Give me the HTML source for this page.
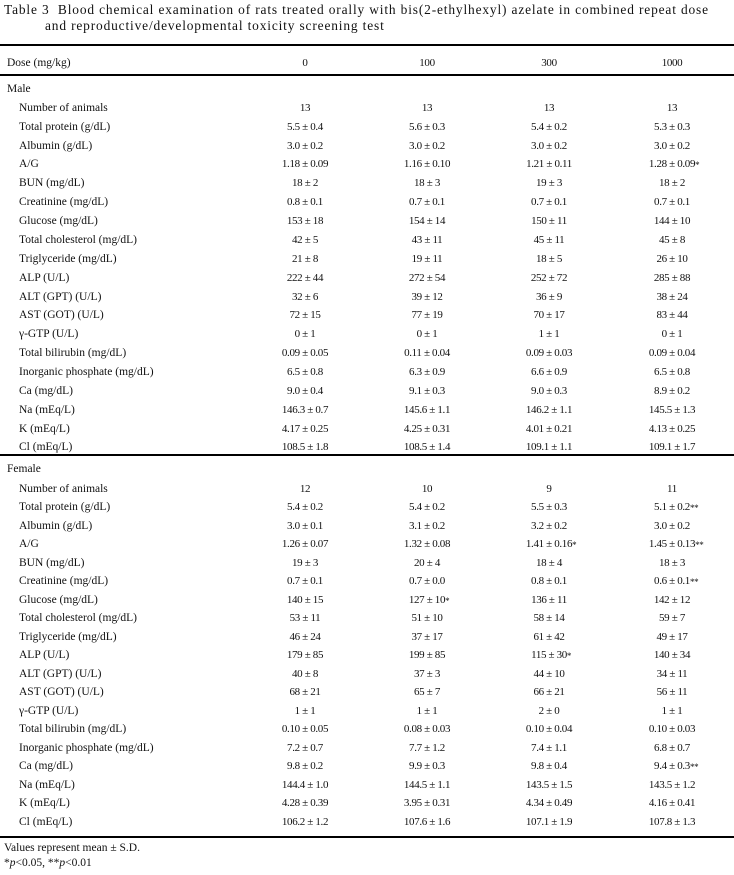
<!DOCTYPE html>
<html><head><meta charset="utf-8"><style>
body{margin:0;width:734px;height:875px;background:#fff;position:relative;font-family:"Liberation Serif",serif;color:#111;overflow:hidden}
.t{position:absolute;left:4px;font-size:13.4px;letter-spacing:0.85px;line-height:16px;white-space:nowrap}
.r{position:absolute;left:0;width:734px;height:18px;font-size:11px;line-height:18px;white-space:nowrap}
.r span{position:absolute;top:0}
.l{left:19px;font-size:11.5px}
.h{left:7px;font-size:11.5px}
.c{width:120px;text-align:center;letter-spacing:-0.35px}
.c1{left:245px}.c2{left:367px}.c3{left:489px}.c4{left:612px}
.s{position:relative;font-weight:normal}
.s i{position:absolute;left:100%;font-style:normal;font-size:9px;top:-2px}
.line{position:absolute;left:0;width:734px;background:#000}
.f{position:absolute;left:4px;font-size:11.5px;white-space:nowrap}
</style></head><body>
<div class="t" style="top:2px">Table 3&nbsp; Blood chemical examination of rats treated orally with bis(2-ethylhexyl) azelate in combined repeat dose</div>
<div class="t" style="top:18px;left:45px">and reproductive/developmental toxicity screening test</div>
<div class="line" style="top:44px;height:2px"></div>
<div class="r" style="top:54px"><span class="h">Dose (mg/kg)</span><span class="c c1">0</span><span class="c c2">100</span><span class="c c3">300</span><span class="c c4">1000</span></div>
<div class="line" style="top:74px;height:2px"></div>
<div class="r" style="top:80px"><span class="h">Male</span></div>

<div class="r" style="top:99px"><span class="l">Number of animals</span><span class="c c1">13</span><span class="c c2">13</span><span class="c c3">13</span><span class="c c4">13</span></div>
<div class="r" style="top:118px"><span class="l">Total protein (g/dL)</span><span class="c c1">5.5 ± 0.4</span><span class="c c2">5.6 ± 0.3</span><span class="c c3">5.4 ± 0.2</span><span class="c c4">5.3 ± 0.3</span></div>
<div class="r" style="top:137px"><span class="l">Albumin (g/dL)</span><span class="c c1">3.0 ± 0.2</span><span class="c c2">3.0 ± 0.2</span><span class="c c3">3.0 ± 0.2</span><span class="c c4">3.0 ± 0.2</span></div>
<div class="r" style="top:155px"><span class="l">A/G</span><span class="c c1">1.18 ± 0.09</span><span class="c c2">1.16 ± 0.10</span><span class="c c3">1.21 ± 0.11</span><span class="c c4"><b class="s">1.28 ± 0.09<i>*</i></b></span></div>
<div class="r" style="top:174px"><span class="l">BUN (mg/dL)</span><span class="c c1">18 ± 2</span><span class="c c2">18 ± 3</span><span class="c c3">19 ± 3</span><span class="c c4">18 ± 2</span></div>
<div class="r" style="top:193px"><span class="l">Creatinine (mg/dL)</span><span class="c c1">0.8 ± 0.1</span><span class="c c2">0.7 ± 0.1</span><span class="c c3">0.7 ± 0.1</span><span class="c c4">0.7 ± 0.1</span></div>
<div class="r" style="top:212px"><span class="l">Glucose (mg/dL)</span><span class="c c1">153 ± 18</span><span class="c c2">154 ± 14</span><span class="c c3">150 ± 11</span><span class="c c4">144 ± 10</span></div>
<div class="r" style="top:231px"><span class="l">Total cholesterol (mg/dL)</span><span class="c c1">42 ± 5</span><span class="c c2">43 ± 11</span><span class="c c3">45 ± 11</span><span class="c c4">45 ± 8</span></div>
<div class="r" style="top:250px"><span class="l">Triglyceride (mg/dL)</span><span class="c c1">21 ± 8</span><span class="c c2">19 ± 11</span><span class="c c3">18 ± 5</span><span class="c c4">26 ± 10</span></div>
<div class="r" style="top:269px"><span class="l">ALP (U/L)</span><span class="c c1">222 ± 44</span><span class="c c2">272 ± 54</span><span class="c c3">252 ± 72</span><span class="c c4">285 ± 88</span></div>
<div class="r" style="top:288px"><span class="l">ALT (GPT) (U/L)</span><span class="c c1">32 ± 6</span><span class="c c2">39 ± 12</span><span class="c c3">36 ± 9</span><span class="c c4">38 ± 24</span></div>
<div class="r" style="top:306px"><span class="l">AST (GOT) (U/L)</span><span class="c c1">72 ± 15</span><span class="c c2">77 ± 19</span><span class="c c3">70 ± 17</span><span class="c c4">83 ± 44</span></div>
<div class="r" style="top:325px"><span class="l">γ-GTP (U/L)</span><span class="c c1">0 ± 1</span><span class="c c2">0 ± 1</span><span class="c c3">1 ± 1</span><span class="c c4">0 ± 1</span></div>
<div class="r" style="top:344px"><span class="l">Total bilirubin (mg/dL)</span><span class="c c1">0.09 ± 0.05</span><span class="c c2">0.11 ± 0.04</span><span class="c c3">0.09 ± 0.03</span><span class="c c4">0.09 ± 0.04</span></div>
<div class="r" style="top:363px"><span class="l">Inorganic phosphate (mg/dL)</span><span class="c c1">6.5 ± 0.8</span><span class="c c2">6.3 ± 0.9</span><span class="c c3">6.6 ± 0.9</span><span class="c c4">6.5 ± 0.8</span></div>
<div class="r" style="top:382px"><span class="l">Ca (mg/dL)</span><span class="c c1">9.0 ± 0.4</span><span class="c c2">9.1 ± 0.3</span><span class="c c3">9.0 ± 0.3</span><span class="c c4">8.9 ± 0.2</span></div>
<div class="r" style="top:401px"><span class="l">Na (mEq/L)</span><span class="c c1">146.3 ± 0.7</span><span class="c c2">145.6 ± 1.1</span><span class="c c3">146.2 ± 1.1</span><span class="c c4">145.5 ± 1.3</span></div>
<div class="r" style="top:420px"><span class="l">K (mEq/L)</span><span class="c c1">4.17 ± 0.25</span><span class="c c2">4.25 ± 0.31</span><span class="c c3">4.01 ± 0.21</span><span class="c c4">4.13 ± 0.25</span></div>
<div class="r" style="top:438px"><span class="l">Cl (mEq/L)</span><span class="c c1">108.5 ± 1.8</span><span class="c c2">108.5 ± 1.4</span><span class="c c3">109.1 ± 1.1</span><span class="c c4">109.1 ± 1.7</span></div>
<div class="line" style="top:454px;height:2px"></div>

<div class="r" style="top:460px"><span class="h">Female</span></div>
<div class="r" style="top:480px"><span class="l">Number of animals</span><span class="c c1">12</span><span class="c c2">10</span><span class="c c3">9</span><span class="c c4">11</span></div>
<div class="r" style="top:498px"><span class="l">Total protein (g/dL)</span><span class="c c1">5.4 ± 0.2</span><span class="c c2">5.4 ± 0.2</span><span class="c c3">5.5 ± 0.3</span><span class="c c4"><b class="s">5.1 ± 0.2<i>**</i></b></span></div>
<div class="r" style="top:517px"><span class="l">Albumin (g/dL)</span><span class="c c1">3.0 ± 0.1</span><span class="c c2">3.1 ± 0.2</span><span class="c c3">3.2 ± 0.2</span><span class="c c4">3.0 ± 0.2</span></div>
<div class="r" style="top:535px"><span class="l">A/G</span><span class="c c1">1.26 ± 0.07</span><span class="c c2">1.32 ± 0.08</span><span class="c c3"><b class="s">1.41 ± 0.16<i>*</i></b></span><span class="c c4"><b class="s">1.45 ± 0.13<i>**</i></b></span></div>
<div class="r" style="top:554px"><span class="l">BUN (mg/dL)</span><span class="c c1">19 ± 3</span><span class="c c2">20 ± 4</span><span class="c c3">18 ± 4</span><span class="c c4">18 ± 3</span></div>
<div class="r" style="top:572px"><span class="l">Creatinine (mg/dL)</span><span class="c c1">0.7 ± 0.1</span><span class="c c2">0.7 ± 0.0</span><span class="c c3">0.8 ± 0.1</span><span class="c c4"><b class="s">0.6 ± 0.1<i>**</i></b></span></div>
<div class="r" style="top:591px"><span class="l">Glucose (mg/dL)</span><span class="c c1">140 ± 15</span><span class="c c2"><b class="s">127 ± 10<i>*</i></b></span><span class="c c3">136 ± 11</span><span class="c c4">142 ± 12</span></div>
<div class="r" style="top:609px"><span class="l">Total cholesterol (mg/dL)</span><span class="c c1">53 ± 11</span><span class="c c2">51 ± 10</span><span class="c c3">58 ± 14</span><span class="c c4">59 ± 7</span></div>
<div class="r" style="top:628px"><span class="l">Triglyceride (mg/dL)</span><span class="c c1">46 ± 24</span><span class="c c2">37 ± 17</span><span class="c c3">61 ± 42</span><span class="c c4">49 ± 17</span></div>
<div class="r" style="top:646px"><span class="l">ALP (U/L)</span><span class="c c1">179 ± 85</span><span class="c c2">199 ± 85</span><span class="c c3"><b class="s">115 ± 30<i>*</i></b></span><span class="c c4">140 ± 34</span></div>
<div class="r" style="top:665px"><span class="l">ALT (GPT) (U/L)</span><span class="c c1">40 ± 8</span><span class="c c2">37 ± 3</span><span class="c c3">44 ± 10</span><span class="c c4">34 ± 11</span></div>
<div class="r" style="top:683px"><span class="l">AST (GOT) (U/L)</span><span class="c c1">68 ± 21</span><span class="c c2">65 ± 7</span><span class="c c3">66 ± 21</span><span class="c c4">56 ± 11</span></div>
<div class="r" style="top:702px"><span class="l">γ-GTP (U/L)</span><span class="c c1">1 ± 1</span><span class="c c2">1 ± 1</span><span class="c c3">2 ± 0</span><span class="c c4">1 ± 1</span></div>
<div class="r" style="top:720px"><span class="l">Total bilirubin (mg/dL)</span><span class="c c1">0.10 ± 0.05</span><span class="c c2">0.08 ± 0.03</span><span class="c c3">0.10 ± 0.04</span><span class="c c4">0.10 ± 0.03</span></div>
<div class="r" style="top:739px"><span class="l">Inorganic phosphate (mg/dL)</span><span class="c c1">7.2 ± 0.7</span><span class="c c2">7.7 ± 1.2</span><span class="c c3">7.4 ± 1.1</span><span class="c c4">6.8 ± 0.7</span></div>
<div class="r" style="top:757px"><span class="l">Ca (mg/dL)</span><span class="c c1">9.8 ± 0.2</span><span class="c c2">9.9 ± 0.3</span><span class="c c3">9.8 ± 0.4</span><span class="c c4"><b class="s">9.4 ± 0.3<i>**</i></b></span></div>
<div class="r" style="top:776px"><span class="l">Na (mEq/L)</span><span class="c c1">144.4 ± 1.0</span><span class="c c2">144.5 ± 1.1</span><span class="c c3">143.5 ± 1.5</span><span class="c c4">143.5 ± 1.2</span></div>
<div class="r" style="top:794px"><span class="l">K (mEq/L)</span><span class="c c1">4.28 ± 0.39</span><span class="c c2">3.95 ± 0.31</span><span class="c c3">4.34 ± 0.49</span><span class="c c4">4.16 ± 0.41</span></div>
<div class="r" style="top:813px"><span class="l">Cl (mEq/L)</span><span class="c c1">106.2 ± 1.2</span><span class="c c2">107.6 ± 1.6</span><span class="c c3">107.1 ± 1.9</span><span class="c c4">107.8 ± 1.3</span></div>
<div class="line" style="top:836px;height:2px"></div>
<div class="f" style="top:842px">Values represent mean ± S.D.</div>
<div class="f" style="top:857px">*<i>p</i>&lt;0.05, **<i>p</i>&lt;0.01</div>
</body></html>
